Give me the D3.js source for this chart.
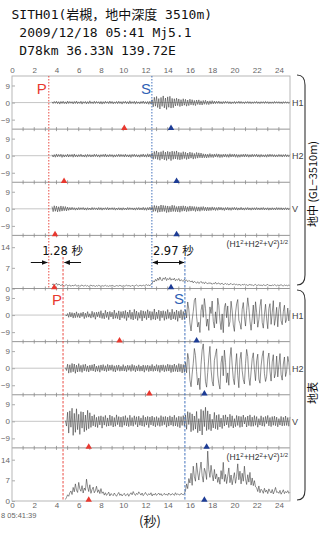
<!DOCTYPE html>
<html><head><meta charset="utf-8">
<script src="https://cdn.jsdelivr.net/npm/d3@7"></script>
<style>body{margin:0;background:#fff}svg{display:block}</style>
</head><body>
<script>
// ---------- data ----------
const titleLines = ["SITH01(岩槻，地中深度 3510m)", " 2009/12/18 05:41 Mj5.1", " D78km 36.33N 139.72E"];
const xTicks = [0,2,4,6,8,10,12,14,16,18,20,22,24];
const waveTicks = [9,0,-9];
const ampTicks = [14,7,0];
const panelNames = ["H1","H2","V","amp","H1","H2","V","amp"];
const pMarks = [10.1,4.68,3.87,3.8,9.67,12.35,6.9,6.9];
const sMarks = [14.3,14.8,14.8,14.3,16.6,17.3,17.5,17.3];
const arrivals = {deepP:3.31, deepS:12.58, surfP:4.59, surfS:15.55};
const lagLabels = ["1.28 秒","2.97 秒"];
const deepStart = 3.6, surfStart = 4.8, dt = 0.1;

const deepH1 = [0.4,-0.5,0.6,-0.4,0.7,-0.6,0.5,-0.8,0.6,-0.5,0.7,-0.6,0.4,-0.7,0.8,-0.5,0.6,-0.4,0.5,-0.7,0.6,-0.5,0.8,-0.6,0.4,-0.5,0.7,-0.8,0.5,-0.4,0.6,-0.7,0.5,-0.6,0.9,-0.5,0.4,-0.6,0.7,-0.5,0.6,-0.4,0.5,-0.7,0.6,-0.8,0.5,-0.6,0.7,-0.4,0.5,-0.6,0.8,-0.5,0.6,-0.7,0.4,-0.5,0.6,-0.6,0.7,-0.5,0.5,-0.8,0.6,-0.4,0.7,-0.6,0.5,-0.7,0.9,-0.6,0.5,-0.5,0.7,-0.8,0.6,-0.5,0.4,-0.7,0.6,-0.5,0.8,-0.6,0.5,-0.7,0.6,-0.9,0.7,-0.8,
1.5,-2.2,2.8,-1.9,3.2,-2.6,2.1,-3.4,2.7,-2.0,3.5,-2.8,2.4,-3.6,3.0,-2.5,3.3,-2.9,2.2,-2.7,
2.0,-1.8,2.3,-1.6,1.9,-2.1,1.5,-1.8,2.0,-1.4,1.7,-1.9,1.3,-1.6,1.8,-1.2,1.5,-1.4,1.1,-1.6,1.3,-1.0,1.4,-1.2,0.9,-1.3,1.1,-0.9,1.2,-1.0,0.8,-1.1,0.9,-0.8,1.0,
-0.7,0.8,-0.6,0.7,-0.5,0.8,-0.6,0.5,-0.7,0.6,-0.5,0.7,-0.4,0.6,-0.6,0.5,-0.7,0.4,-0.5,0.6,-0.6,0.5,-0.4,0.7,-0.5,0.6,-0.5,0.4,-0.6,0.5,-0.4,0.6,-0.5,0.5,-0.6,0.4,-0.5,0.5,-0.4,0.6,-0.5,0.4,-0.6,0.5,-0.4,0.5,-0.5,0.6,-0.4,0.5,-0.6,0.4,-0.5,0.4,-0.5,0.6,-0.4,0.5,-0.4,0.5,-0.5,0.4,-0.6,0.5,-0.4,0.5,-0.4,0.4,-0.5,0.4];

const deepH2 = [0.5,-0.7,0.6,-0.8,0.9,-0.6,0.7,-0.5,0.8,-0.9,0.6,-0.7,0.5,-0.6,0.8,-0.7,0.6,-0.5,0.7,-0.8,0.9,-0.6,0.5,-0.7,0.6,-0.5,0.8,-0.6,0.4,-0.7,0.6,-0.8,0.7,-0.5,0.6,-0.7,0.5,-0.6,0.8,-0.5,0.7,-0.6,0.5,-0.8,0.6,-0.5,0.7,-0.6,0.9,-0.7,0.5,-0.6,0.7,-0.5,0.6,-0.8,0.5,-0.7,0.6,-0.5,0.8,-0.6,0.7,-0.5,0.6,-0.7,0.8,-0.6,0.5,-0.7,0.6,-0.9,0.7,-0.5,0.8,-0.6,0.6,-0.7,0.5,-0.8,0.7,-0.6,0.9,-0.7,0.6,-0.8,1.0,-0.7,0.8,-0.9,
1.4,-1.9,2.2,-1.6,2.5,-2.0,1.8,-2.4,2.1,-1.7,2.6,-2.2,1.9,-2.5,2.3,-1.8,2.0,-2.6,2.4,-1.9,2.2,-1.7,2.5,-2.0,1.8,-2.2,1.6,-1.9,2.1,-1.5,1.8,-2.0,1.4,-1.7,1.9,-1.3,1.6,-1.8,1.2,-1.5,1.7,-1.3,1.5,-1.1,1.4,
-1.2,1.0,-1.1,0.9,-1.2,0.8,-1.0,1.1,-0.9,0.8,-1.0,0.9,-0.7,1.0,-0.8,0.9,-1.0,0.7,-0.9,0.8,-0.7,0.9,-0.8,0.7,-0.9,1.0,-0.7,0.8,-0.6,0.9,-0.8,0.7,-0.9,0.6,-0.8,0.7,-0.6,0.8,-0.7,0.9,-0.6,0.7,-0.8,0.6,-0.7,0.8,-0.6,0.7,-0.5,0.8,-0.7,0.6,-0.8,0.7,-0.6,0.5,-0.7,0.6,-0.8,0.7,-0.6,0.8,-0.5,0.7,-0.6,0.6,-0.7,0.5,-0.6,0.7,-0.5,0.6,-0.7,0.6,-0.5,0.7,-0.6,0.5,-0.6,0.6];

const deepV = [1.2,-1.5,1.6,-1.3,1.4,-1.6,1.1,-1.4,1.5,-1.2,1.3,-1.0,1.2,-1.1,0.9,
-0.8,0.7,-0.6,0.8,-0.5,0.6,-0.7,0.5,-0.6,0.7,-0.5,0.6,-0.4,0.7,-0.6,0.5,-0.7,0.6,-0.5,0.4,-0.6,0.7,-0.5,0.6,-0.4,0.5,-0.6,0.7,-0.5,0.6,-0.7,0.5,-0.4,0.6,-0.5,0.7,-0.6,0.5,-0.4,0.6,-0.5,0.6,-0.7,0.4,-0.5,0.6,-0.6,0.5,-0.7,0.6,-0.5,0.4,-0.6,0.7,-0.5,0.6,-0.4,0.5,-0.6,0.5,-0.7,0.6,-0.5,0.7,-0.6,0.5,-0.6,0.8,-0.7,0.6,-0.8,0.7,-0.6,0.9,-0.7,
1.2,-1.5,1.8,-1.3,1.6,-1.9,1.4,-1.7,2.0,-1.5,1.8,-1.4,1.6,-2.0,1.5,-1.8,1.3,-1.6,1.9,-1.4,1.7,-1.5,1.2,-1.6,1.4,-1.8,1.5,-1.3,1.6,-1.2,1.4,-1.5,1.1,-1.3,1.5,-1.2,1.3,-1.0,1.2,-1.4,1.1,-1.2,1.0,-1.3,1.1,-0.9,1.2,-1.0,0.9,-1.1,
0.9,-1.0,0.8,-0.9,1.0,-0.7,0.8,-0.9,0.7,-0.8,0.9,-0.6,0.8,-0.7,0.6,-0.9,0.7,-0.6,0.8,-0.7,0.6,-0.8,0.7,-0.5,0.8,-0.6,0.7,-0.7,0.5,-0.6,0.8,-0.6,0.5,-0.7,0.6,-0.5,0.7,-0.6,0.5,-0.7,0.6,-0.5,0.6,-0.6,0.7,-0.5,0.5,-0.6,0.6,-0.5,0.7,-0.6,0.5,-0.5,0.6,-0.7,0.5,-0.6,0.6,-0.5,0.5,-0.6,0.7,-0.5,0.6,-0.5,0.6,-0.6,0.5,-0.5,0.6,-0.5,0.5,-0.6,0.5];

const deepAmp = [1.2,1.6,1.0,1.4,1.8,1.1,1.5,1.3,0.9,1.4,1.2,0.8,1.1,1.3,0.9,1.0,1.2,0.7,1.1,0.9,1.0,1.3,0.8,0.9,1.1,0.7,1.0,1.2,0.8,0.9,1.1,0.8,1.0,0.7,0.9,1.2,0.8,1.0,0.9,0.7,1.0,0.8,1.1,0.9,0.7,1.0,0.8,0.9,1.1,0.8,0.9,0.7,1.0,0.8,1.1,0.9,0.7,0.8,1.0,0.9,0.8,1.1,0.9,0.7,1.0,0.8,0.9,1.2,0.8,1.0,0.9,0.7,1.1,0.9,0.8,1.0,1.2,0.9,0.8,1.1,1.0,0.8,1.2,0.9,1.1,1.3,1.0,1.2,0.9,1.4,
1.8,2.6,2.2,3.1,2.5,3.5,2.8,3.9,3.0,2.6,3.6,3.1,3.8,2.7,3.4,3.0,3.7,2.8,3.3,2.9,3.5,2.6,3.1,2.8,3.4,2.5,3.0,2.7,2.4,3.1,2.6,2.9,2.3,2.7,2.5,
2.2,2.6,1.9,2.4,2.1,1.8,2.3,1.7,2.0,2.4,1.8,2.1,1.6,2.2,1.9,1.5,2.0,1.7,1.9,1.4,1.8,1.6,2.1,1.5,1.7,1.9,1.4,1.6,1.8,1.3,1.5,1.7,1.4,1.6,1.2,1.5,1.7,1.3,1.4,1.6,
1.2,1.5,1.1,1.4,1.3,1.0,1.4,1.2,1.5,1.1,1.3,1.0,1.2,1.4,1.1,1.3,0.9,1.2,1.4,1.0,1.1,1.3,1.0,1.2,0.9,1.3,1.1,1.0,1.2,1.4,1.0,1.1,0.9,1.2,1.0,1.3,1.1,0.9,1.2,1.0,1.1,1.3,1.0,0.9,1.2,1.0,1.1,0.9,1.2,1.0];

const surfH1 = [0.2,-0.5,0.8,-1.2,1.5,-1.0,1.3,-1.6,1.1,-1.4,1.7,-1.2,0.9,
-1.5,1.2,-0.8,1.6,-1.9,1.0,-1.3,1.8,-1.1,0.7,-1.6,2.0,-1.2,1.4,-2.2,1.5,-0.9,1.7,-1.4,2.3,-1.8,1.1,-2.0,2.5,-1.3,1.6,-2.4,1.9,-1.0,1.5,-2.1,2.6,-1.7,1.2,-1.9,2.2,-2.6,1.8,-1.4,2.0,
-1.8,2.4,-2.9,1.6,-1.3,2.7,-2.2,1.5,-2.6,3.0,-1.9,2.1,-2.8,1.4,-1.7,2.5,-3.1,2.2,-1.6,1.9,-2.4,2.8,-1.5,2.0,-2.7,1.8,-2.2,3.2,-2.5,1.6,-1.9,2.6,-3.0,2.1,-1.4,2.3,-2.8,1.9,-2.2,2.9,-1.8,1.5,-2.6,3.1,-2.0,1.7,-2.4,2.6,-3.3,2.0,-1.6,2.8,-2.5,1.9,-2.3,
2.8,-1.5,6.9,3.2,-4.1,-8.4,-2.6,1.9,7.8,9.0,-0.7,-6.3,-3.8,-9.2,2.4,5.5,-1.2,8.7,3.6,-5.9,
-2.1,-8.1,4.3,0.8,7.4,-3.3,-6.8,1.7,-4.5,8.9,5.1,-2.9,-7.7,0.6,-9.3,3.9,6.2,-1.4,4.8,-6.1,
-3.5,7.3,2.2,-5.2,-8.6,1.1,5.9,8.2,-2.7,-4.4,-7.5,3.0,6.6,-0.9,-5.8,2.5,9.1,4.0,-3.2,-8.0,
-1.9,5.3,-4.7,7.0,1.5,-6.4,-2.4,4.6,8.3,-3.9,-6.9,0.4,5.7,-2.0,-7.2,3.4,6.0,-4.9,1.2,7.6,
-5.4,-1.7,4.1,-6.2,2.9,6.8,-3.0,-5.1,1.8,5.2,-4.0,-2.2,3.7,-3.1,2.6];

const surfH2 = [0.3,-1.2,2.1,-2.6,1.8,-2.3,2.5,-1.9,2.2,-2.7,1.6,-2.0,2.4,
-1.8,1.5,-2.2,1.9,-1.4,2.1,-1.7,1.2,-2.0,1.6,-1.3,1.8,-1.5,2.2,-1.9,1.1,-1.6,1.4,-2.1,1.7,-1.2,1.9,-1.5,1.3,-1.8,2.0,-1.4,1.6,-1.1,1.8,-1.7,1.3,-2.0,1.5,-1.2,1.7,-1.6,1.0,-1.4,1.9,-1.5,1.2,-1.8,1.6,-1.1,1.4,-1.7,2.0,-1.3,1.5,-1.9,1.2,-1.4,1.8,-1.6,1.1,-1.5,1.7,-2.1,1.4,-1.2,1.6,-1.8,1.3,-1.5,2.0,-1.7,1.2,-1.4,1.9,-1.6,1.5,-2.2,1.7,-1.3,1.8,-1.9,1.4,-1.6,2.1,-1.5,1.8,-2.3,1.6,-1.9,2.2,-1.7,1.5,-2.0,2.4,-1.8,2.1,-2.5,1.9,-2.2,
3.1,-2.4,7.8,4.5,-6.2,-9.8,-3.1,2.6,10.4,6.7,-1.8,-8.9,-5.2,-11.3,1.9,9.6,12.8,3.4,-7.1,-10.0,
-2.2,5.8,11.5,-0.6,-6.9,-9.4,4.1,7.3,10.2,-3.6,-8.2,-11.0,2.8,6.5,-4.0,9.5,3.1,-7.6,-2.5,-9.0,
5.4,10.9,1.6,-5.5,-8.7,0.9,7.7,-3.8,-10.3,4.6,8.4,-1.3,-6.0,-8.3,2.4,9.9,6.1,-4.9,-9.1,-2.0,
5.0,8.1,-0.8,-6.6,3.9,7.4,-5.7,-7.9,1.2,6.3,9.2,-2.9,-7.0,-4.3,4.8,8.0,-1.5,-6.8,3.3,7.1,
-5.1,-2.7,6.4,-4.6,1.8,7.7,-3.4,-6.3,2.2,5.9,-4.4,-1.6,6.2,3.0,-3.7];

const surfV = [0.4,-2.5,4.8,-6.2,5.5,-3.1,6.9,-7.4,4.2,-5.8,6.6,-4.4,3.7,-6.9,5.1,-3.6,4.9,-5.5,3.3,-4.7,5.8,-3.9,4.5,
-3.2,2.8,-2.4,3.5,-2.9,2.1,-3.3,2.6,-1.9,2.9,-3.6,2.4,-2.0,3.1,-2.7,1.8,-2.5,3.3,-2.2,2.7,-3.0,2.0,-2.6,3.4,-1.8,2.5,-2.9,2.2,-3.1,2.6,-2.1,3.0,-2.4,1.9,-2.8,3.2,-2.3,2.0,-2.6,2.9,-1.7,2.4,-3.0,2.7,-2.1,1.8,-2.5,3.1,-2.8,2.2,-2.0,2.6,-3.3,2.3,-1.9,2.8,-2.4,2.1,-2.9,2.5,-2.2,1.9,-2.7,3.0,-2.3,2.4,-1.8,2.6,-3.1,2.2,-2.5,2.9,-2.0,2.3,-2.6,3.2,-2.4,2.0,-2.8,2.7,-3.4,2.5,-2.2,3.0,-2.6,
3.4,-4.2,5.1,-1.7,4.6,-5.5,3.9,-4.8,2.8,-4.1,5.2,-6.0,1.4,-5.1,6.3,-7.2,5.6,-2.8,7.4,-4.9,5.5,-4.3,3.8,-5.0,1.1,-3.5,4.7,-3.9,3.2,-4.4,
3.6,-3.0,1.7,-3.8,3.2,-2.5,3.4,-1.9,2.3,-3.3,3.7,-2.6,2.9,-3.5,1.4,-2.8,3.1,-2.2,2.7,-3.2,2.5,-2.9,3.3,-1.4,2.1,-3.0,2.8,-2.3,3.4,-2.7,2.2,-2.6,3.0,-2.1,2.5,-3.1,1.4,-2.0,2.9,-2.5,2.1,-2.7,2.6,-1.2,3.1,-2.4,2.0,-2.8,2.5,-2.1,2.7,-2.3,2.2,-2.9,1.4,-2.0,2.6,-2.5,2.1,-2.3,2.8,-2.2,2.0,-2.6,2.3];

const surfAmp = [0.5,1.2,2.1,1.6,2.8,3.4,2.2,4.6,3.1,5.8,3.7,2.9,6.3,4.1,3.3,5.2,2.7,4.4,3.6,7.4,4.8,3.2,5.5,2.6,3.9,4.7,2.8,3.5,5.0,2.9,3.8,2.5,4.2,
2.6,3.1,2.0,2.8,1.9,2.4,3.0,1.7,2.5,2.2,1.8,2.7,2.1,1.6,2.3,2.9,1.9,2.4,1.7,2.2,2.6,1.8,2.0,2.5,1.6,2.3,2.8,2.1,3.2,2.4,1.9,2.6,2.2,3.1,2.5,2.0,2.7,1.8,2.3,2.9,2.2,1.9,2.5,2.1,2.8,1.7,2.4,2.0,2.6,1.9,2.3,2.7,2.0,2.5,1.8,2.2,2.6,2.0,2.4,1.9,2.7,2.2,2.0,2.5,2.3,1.9,2.8,2.1,2.4,2.2,2.0,2.6,2.3,2.1,2.5,
3.5,5.8,4.2,7.6,6.1,9.4,5.3,11.8,8.2,6.7,12.9,9.5,7.1,10.4,13.2,8.6,6.4,11.1,9.8,7.3,16.9,10.6,8.0,12.1,9.0,6.8,10.7,7.5,9.2,6.3,
8.1,5.7,10.3,7.4,13.1,6.6,9.0,5.9,8.4,11.2,6.2,8.8,5.5,7.7,9.6,6.0,8.3,12.6,7.2,10.1,5.8,9.4,6.7,11.8,7.5,5.6,8.9,6.4,9.7,5.4,7.8,5.2,6.9,4.8,
4.5,3.2,5.1,2.8,4.0,3.5,2.6,4.3,3.0,3.7,2.5,4.1,3.3,2.7,3.9,2.4,3.4,4.6,2.9,3.1,2.6,3.6,2.3,3.0,3.8,2.5,3.2,2.8,3.5,2.6,3.0];

// ---------- layout ----------
const W = 322, H = 535;
const plotL = 12, plotR = 290, plotT = 76, plotB = 501;
const nP = 8, ph = (plotB - plotT) / nP;
const red = "#e8382f", blue = "#2f62b5", triBlue = "#1d3c95", gray = "#666";

const svg = d3.select("body").append("svg").attr("width", W).attr("height", H)
  .style("font-family", "'Liberation Sans', Arial, sans-serif");

const x = d3.scaleLinear().domain([0, 25]).range([plotL, plotR]);

// title
svg.append("g").selectAll("text").data(titleLines).join("text")
  .attr("x", 11.5).attr("y", (d, i) => 19 + i * 18)
  .attr("font-family", "'DejaVu Sans Mono', 'Noto Sans CJK JP', monospace")
  .attr("font-size", 13).attr("fill", "#111")
  .attr("xml:space", "preserve").style("white-space", "pre")
  .text(d => d);

const series = [deepH1, deepH2, deepV, deepAmp, surfH1, surfH2, surfV, surfAmp];
const panels = series.map((vals, i) => ({
  i, name: panelNames[i], vals, amp: panelNames[i] === "amp",
  start: i < 4 ? deepStart : surfStart,
  top: plotT + i * ph, bottom: plotT + (i + 1) * ph
}));

panels.forEach(p => {
  p.y = p.amp ? d3.scaleLinear().domain([0, 18]).range([p.bottom, p.top])
               : d3.scaleLinear().domain([-14, 14]).range([p.bottom, p.top]);
  const g = svg.append("g");
  if (!p.amp) g.append("line").attr("x1", plotL).attr("x2", plotR)
    .attr("y1", p.y(0)).attr("y2", p.y(0)).attr("stroke", "#b8b8b8").attr("stroke-width", 0.8);
  const ticks = p.amp ? ampTicks : waveTicks;
  const ax = d3.axisLeft(p.y).tickValues(ticks).tickSize(-3).tickPadding(2);
  const axg = g.append("g").attr("transform", `translate(${plotL},0)`).call(ax);
  axg.select(".domain").remove();
  axg.selectAll("line").attr("stroke", "#aaa");
  axg.selectAll("text").attr("font-size", 8).attr("fill", gray).attr("font-family", "'Liberation Sans', Arial, sans-serif");
  const line = d3.line().x((d, k) => x(p.start + k * dt)).y(d => p.y(d));
  g.append("path").datum(p.vals).attr("d", line).attr("fill", "none")
    .attr("stroke", "#333").attr("stroke-width", 0.55).attr("stroke-linejoin", "round");
  if (!p.amp) g.append("text").attr("x", plotR + 2).attr("y", p.y(0) + 3.5)
    .attr("font-size", 9).attr("fill", "#444").text(p.name);
  else {
    const t = g.append("text").attr("x", plotR - 2).attr("y", p.top + 12)
      .attr("text-anchor", "end").attr("font-size", 8.5).attr("fill", "#333");
    const parts = [["(H1",0],["2",1],["+H2",0],["2",1],["+V",0],["2",1],[")",0],["1/2",1]];
    parts.forEach(([s, sup]) => t.append("tspan").text(s)
      .attr("font-size", sup ? 6 : 8.5).attr("baseline-shift", sup ? "super" : null));
  }
});

// separators with ticks
const sepYs = d3.range(1, nP).map(i => plotT + i * ph);
const minorTicks = d3.range(1, 25, 1);
sepYs.forEach(y => {
  svg.append("line").attr("x1", plotL).attr("x2", plotR).attr("y1", y).attr("y2", y)
    .attr("stroke", "#8a8a8a").attr("stroke-width", 0.9);
  svg.append("g").selectAll("line").data(minorTicks).join("line")
    .attr("x1", d => x(d)).attr("x2", d => x(d)).attr("y1", y - 2).attr("y2", y + 2)
    .attr("stroke", "#8a8a8a").attr("stroke-width", 0.8);
});
svg.append("rect").attr("x", plotL).attr("y", plotT).attr("width", plotR - plotL).attr("height", plotB - plotT)
  .attr("fill", "none").attr("stroke", "#b0b0b0").attr("stroke-width", 0.9);

// top axis
const topAx = svg.append("g").attr("transform", `translate(0,${plotT})`)
  .call(d3.axisTop(x).tickValues(xTicks).tickSize(0).tickPadding(3));
topAx.select(".domain").remove();
topAx.selectAll("text").attr("font-size", 8).attr("fill", gray).attr("font-family", "'Liberation Sans', Arial, sans-serif");
// bottom axis
const botAx = svg.append("g").attr("transform", `translate(0,${plotB})`)
  .call(d3.axisBottom(x).tickValues(xTicks).tickSize(0).tickPadding(1));
botAx.select(".domain").remove();
botAx.selectAll("text").attr("font-size", 8).attr("fill", gray).attr("font-family", "'Liberation Sans', Arial, sans-serif");
svg.append("text").attr("x", 1).attr("y", 518).attr("font-size", 7.5).attr("fill", gray).text("8 05:41:39");
svg.append("text").attr("x", 150).attr("y", 526).attr("text-anchor", "middle").attr("font-size", 13)
  .attr("fill", "#222").attr("font-family", "'Noto Sans CJK JP', sans-serif").text("(秒)");

// arrival lines
const vline = (t, y1, y2, col, dash) => svg.append("line").attr("x1", x(t)).attr("x2", x(t))
  .attr("y1", y1).attr("y2", y2).attr("stroke", col).attr("stroke-width", 0.9).attr("stroke-dasharray", dash);
vline(arrivals.deepP, plotT, panels[3].bottom, red, "1.5,1.5");
vline(arrivals.deepS, plotT, panels[3].bottom, blue, "1.5,1.5");
vline(arrivals.surfP, 257, plotB, red, "2.5,1.5");
vline(arrivals.surfS, 257, plotB, blue, "2.5,1.5");

const lab = (t, dx, y, txt, col) => svg.append("text").attr("x", x(t) + dx).attr("y", y)
  .attr("text-anchor", "middle").attr("font-size", 15).attr("fill", col).text(txt);
lab(arrivals.deepP, -7, 94, "P", red);
lab(arrivals.deepS, -6, 94, "S", blue);
lab(arrivals.surfP, -6, 305, "P", red);
lab(arrivals.surfS, -6, 304, "S", blue);

const tri = d3.symbol().type(d3.symbolTriangle).size(18);
panels.forEach(p => {
  [[pMarks[p.i], red], [sMarks[p.i], triBlue]].forEach(([t, c]) => {
    svg.append("path").attr("d", tri).attr("fill", c)
      .attr("transform", `translate(${x(t)},${p.bottom - 1})`);
  });
});

const defs = svg.append("defs");
defs.append("marker").attr("id", "ah").attr("viewBox", "0 0 10 10").attr("refX", 9).attr("refY", 5)
  .attr("markerWidth", 6).attr("markerHeight", 6).attr("orient", "auto-start-reverse")
  .append("path").attr("d", "M0,1 L10,5 L0,9 Z").attr("fill", "#111");
const ay = 262.5;
const arrow = (x1, x2, both) => svg.append("line").attr("x1", x1).attr("x2", x2).attr("y1", ay).attr("y2", ay)
  .attr("stroke", "#111").attr("stroke-width", 1).attr("marker-end", "url(#ah)")
  .attr("marker-start", both ? "url(#ah)" : null);
arrow(x(arrivals.deepP) - 18, x(arrivals.deepP) - 1.5, false);
arrow(x(arrivals.surfP) + 18, x(arrivals.surfP) + 1.5, false);
arrow(x(arrivals.deepS) + 1, x(arrivals.surfS) - 1, true);
svg.append("text").attr("x", x(arrivals.deepP) - 6.5).attr("y", 255).attr("font-size", 11.5)
  .attr("fill", "#111").attr("font-family", "'DejaVu Sans', 'Noto Sans CJK JP', sans-serif")
  .attr("xml:space", "preserve").text(lagLabels[0]);
svg.append("text").attr("x", x(arrivals.deepS) + 1).attr("y", 255).attr("font-size", 11.5)
  .attr("fill", "#111").attr("font-family", "'DejaVu Sans', 'Noto Sans CJK JP', sans-serif")
  .attr("xml:space", "preserve").text(lagLabels[1]);

const brace = (y1, y2) => {
  const xa = 297, xb = 305;
  return `M${xa},${y1} Q${xb},${y1} ${xb},${y1 + 10} L${xb},${y2 - 10} Q${xb},${y2} ${xa},${y2}`;
};
svg.append("path").attr("d", brace(75, 285)).attr("fill", "none").attr("stroke", "#333").attr("stroke-width", 1.1);
svg.append("path").attr("d", brace(290, 500)).attr("fill", "none").attr("stroke", "#333").attr("stroke-width", 1.1);
const vtext = (cy, txt) => svg.append("text").attr("transform", `translate(317,${cy}) rotate(-90)`)
  .attr("text-anchor", "middle").attr("font-size", 11).attr("fill", "#111")
  .attr("font-family", "'Noto Sans CJK JP', sans-serif").text(txt);
vtext(184, "地中 (GL−3510m)");
vtext(393, "地表");
</script>
</body></html>
